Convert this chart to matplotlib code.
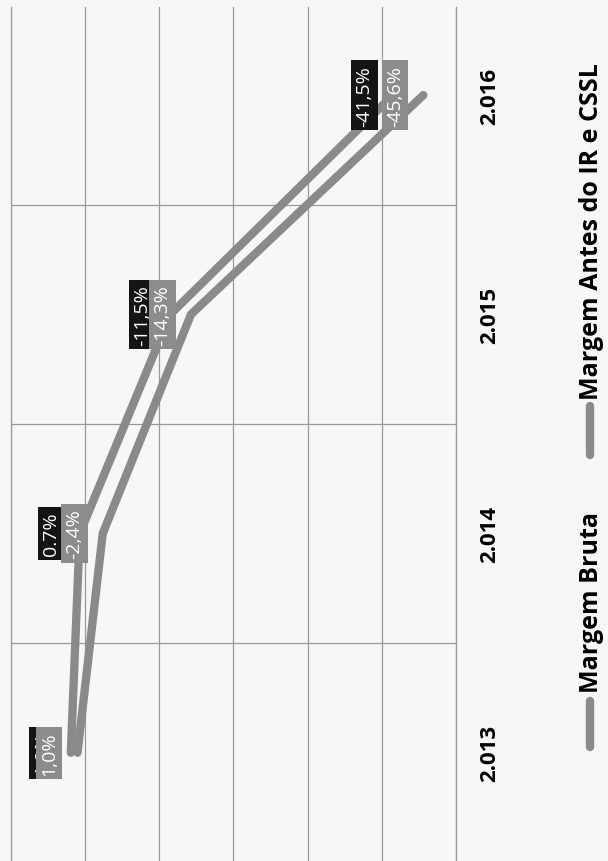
import numpy as np
import matplotlib.pyplot as plt
from matplotlib.lines import Line2D

plt.rcParams['font.family'] = ['Open Sans', 'DejaVu Sans']

# Data (chart is a scanned line chart, rotated 90 degrees)
years = ['2.013', '2.014', '2.015', '2.016']
margem_bruta = [1.9, 0.7, -11.5, -41.5]
margem_antes_ir = [1.0, -2.4, -14.3, -45.6]
bruta_labels = ['1,9%', '0.7%', '-11,5%', '-41,5%']
antes_ir_labels = ['1,0%', '-2,4%', '-14,3%', '-45,6%']
series_names = ['Margem Bruta', 'Margem Antes do IR e CSSL']

# Colours
BG = '#f7f7f7'
LINE = '#8a8a8a'
GRID = '#999999'
BOX_DARK = '#141414'
BOX_GRAY = '#8c8c8c'

W, H = 608, 862
fig = plt.figure(figsize=(W / 100, H / 100), dpi=100)
fig.patch.set_facecolor(BG)

ax = fig.add_axes([10.7 / W, 0, (456 - 10.7) / W, 1 - 8 / H])
ax.set_facecolor(BG)

pos = np.arange(len(years))

# lines (value on horizontal axis, year on vertical axis)
ax.plot(margem_bruta, pos, color=LINE, lw=6, solid_capstyle='round', zorder=3)
ax.plot(margem_antes_ir, pos, color=LINE, lw=6, solid_capstyle='round', zorder=3)

# data labels, placed "above" each point (to the left after rotation)
for v, p, t in zip(margem_bruta, pos, bruta_labels):
    ax.annotate(t, xy=(v, p), xytext=(-20.5, 0), textcoords='offset points',
                rotation=90, ha='center', va='center', color='white', fontsize=14,
                bbox=dict(boxstyle='square,pad=0.22', fc=BOX_DARK, ec='none'), zorder=4)
for v, p, t in zip(margem_antes_ir, pos, antes_ir_labels):
    ax.annotate(t, xy=(v, p), xytext=(-20.5, 0), textcoords='offset points',
                rotation=90, ha='center', va='center', color='white', fontsize=14,
                bbox=dict(boxstyle='square,pad=0.22', fc=BOX_GRAY, ec='none'), zorder=5)

# axes
ax.set_xlim(10, -50)
ax.set_ylim(-0.494, 3.402)
ax.set_xticks(np.arange(-50, 11, 10))
ax.tick_params(axis='x', length=0, labelbottom=False)
ax.set_yticks(pos, labels=years, fontweight='bold', fontsize=16, rotation=90,
              ha='left', va='center')
ax.set_yticks(pos[:-1] + 0.5, minor=True)
ax.yaxis.tick_right()
ax.tick_params(axis='y', which='both', length=0, pad=17)
ax.grid(axis='x', which='major', color=GRID, lw=0.9, zorder=0)
ax.grid(axis='y', which='minor', color=GRID, lw=0.9, zorder=0)
ax.set_axisbelow(True)
for side in ['top', 'bottom']:
    ax.spines[side].set_visible(False)
for side in ['left', 'right']:
    ax.spines[side].set_color(GRID)
    ax.spines[side].set_linewidth(0.9)

# legend, drawn by hand so it can be rotated with the chart
legend_items = [(series_names[0], 702, 748, 693), (series_names[1], 407, 456, 400)]
for name, y0, y1, ytext in legend_items:
    fig.add_artist(Line2D([590 / W, 590 / W], [1 - y0 / H, 1 - y1 / H],
                          transform=fig.transFigure, color=LINE, lw=6,
                          solid_capstyle='round'))
    fig.text(591 / W, 1 - ytext / H, name, rotation=90, ha='center', va='bottom',
             fontsize=18, fontweight='bold', color='black')

fig.savefig('out.png', dpi=100, facecolor=BG)
